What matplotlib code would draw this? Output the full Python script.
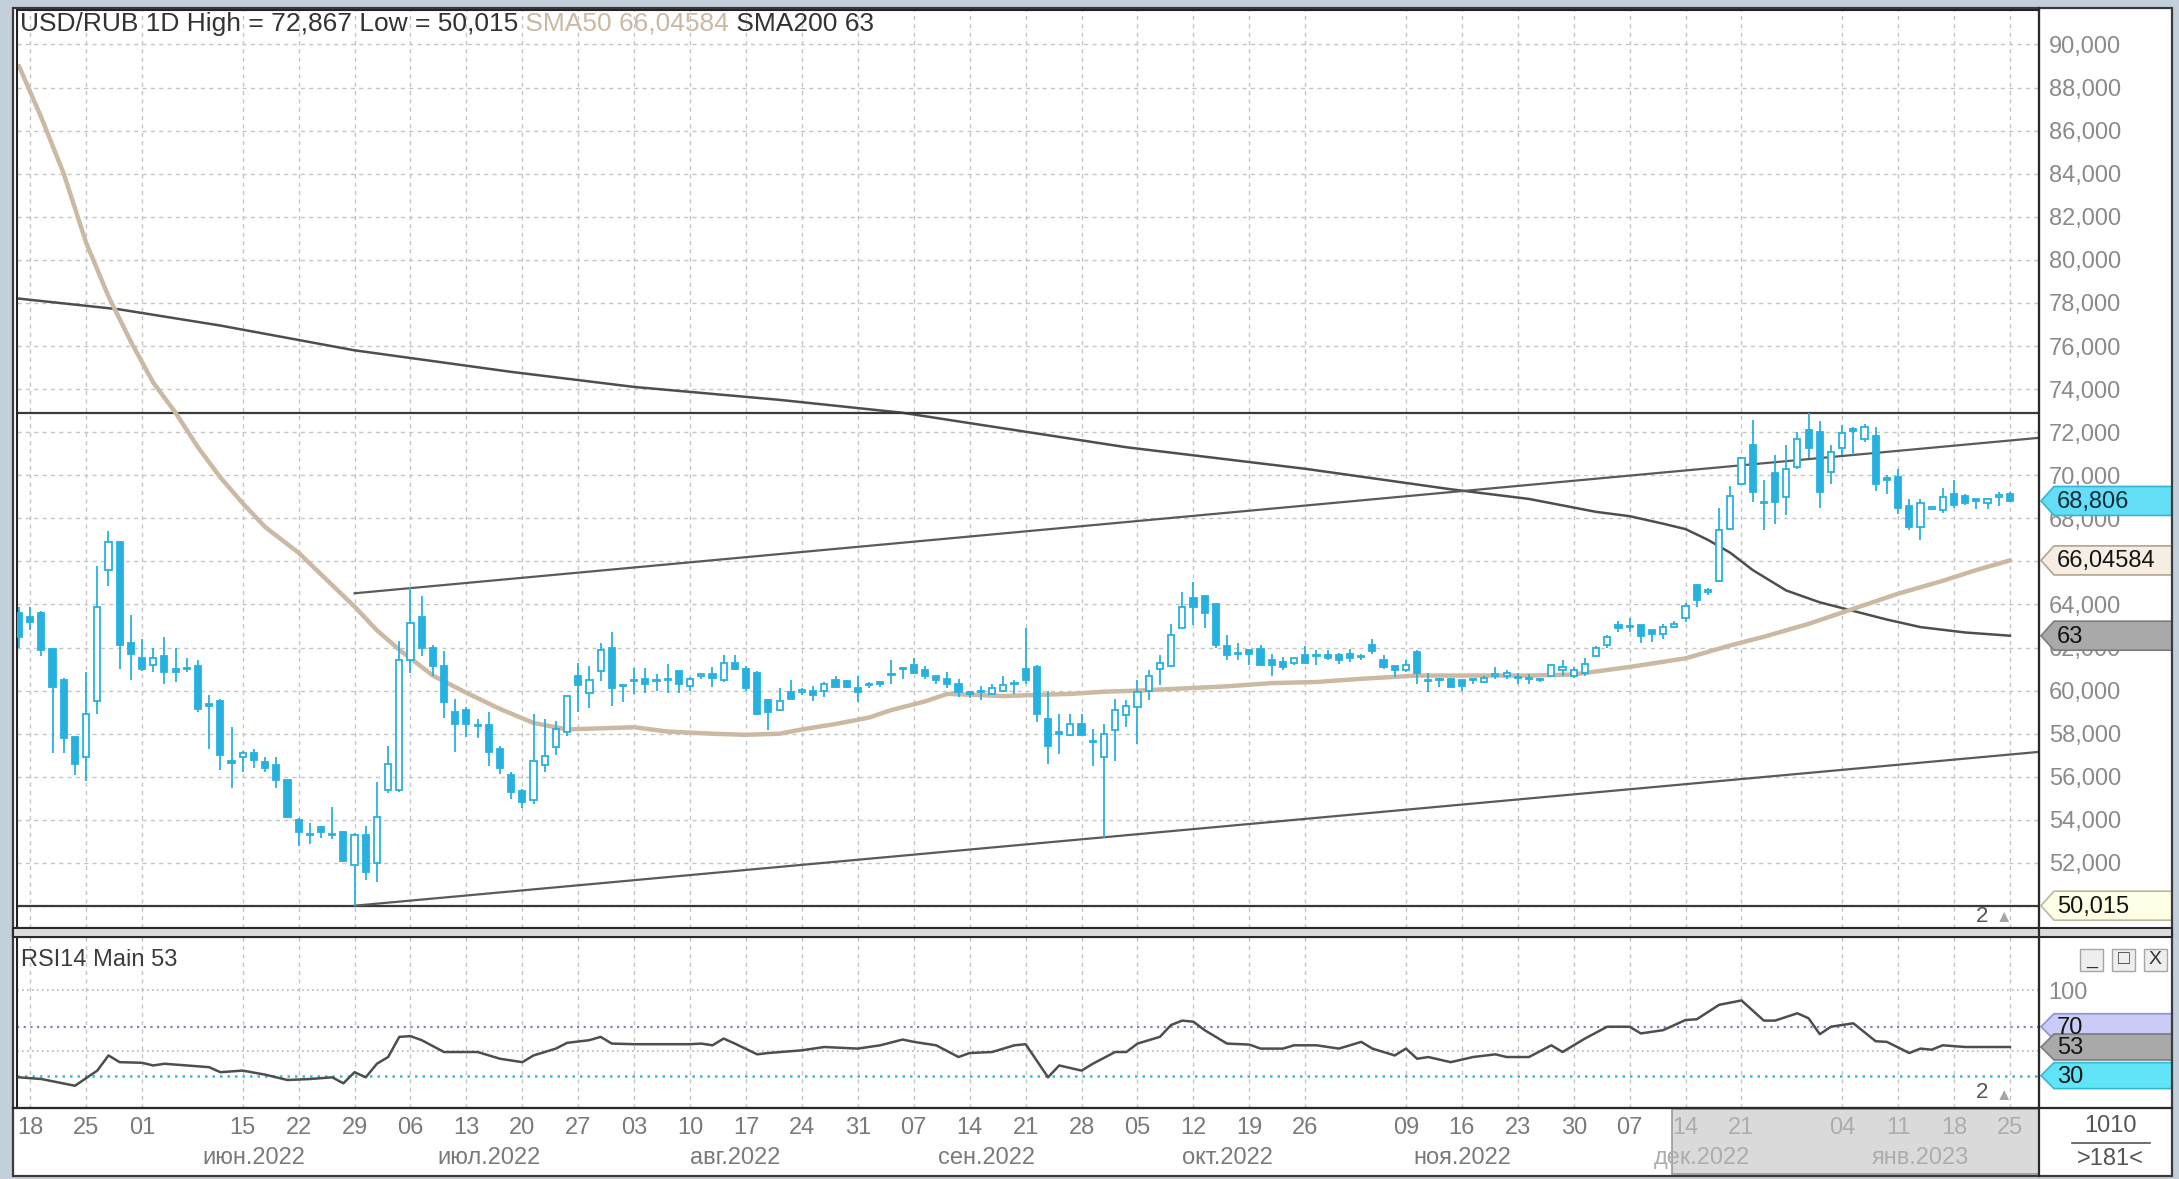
import numpy as np
import pandas as pd
import matplotlib
matplotlib.use("Agg")
import matplotlib.pyplot as plt
from matplotlib.patches import Polygon, Rectangle

plt.rcParams["font.family"] = ["Liberation Sans", "DejaVu Sans"]

# ---------------- data: USD/RUB, daily, 17.05.2022 - 25.01.2023 ----------------
holidays = ["2022-06-13", "2022-11-04", "2023-01-02"]
days = pd.bdate_range("2022-05-17", "2023-01-25")
days = days[~days.isin(pd.to_datetime(holidays))]

opens = [63.6, 63.4, 63.6, 61.95, 60.5, 57.85, 56.9, 59.5, 65.6, 66.9,
         62.2, 61.5, 61.2, 61.6, 61.0, 61.0, 61.15, 59.4, 59.5, 56.75,
         56.9, 57.1, 56.7, 56.55, 55.85, 54.0, 53.3, 53.65, 53.35, 53.45,
         51.9, 53.3, 52.0, 55.4, 55.4, 61.4, 63.4, 62.0, 61.15, 59.0,
         59.1, 58.4, 58.4, 57.3, 56.1, 55.35, 54.9, 56.55, 57.4, 58.1,
         60.7, 59.9, 60.9, 62.0, 60.25, 60.45, 60.55, 60.45, 60.5, 60.9,
         60.2, 60.7, 60.75, 60.5, 61.3, 61.0, 60.8, 59.55, 59.1, 59.95,
         59.95, 60.0, 60.0, 60.5, 60.45, 60.1, 60.25, 60.4, 60.75, 61.0,
         61.2, 60.95, 60.7, 60.55, 60.3, 59.95, 59.95, 59.85, 60.0, 60.3,
         61.0, 61.1, 58.7, 58.05, 57.95, 58.45, 57.6, 56.9, 58.15, 58.85,
         59.25, 60.0, 61.0, 61.15, 62.9, 64.3, 64.4, 64.0, 62.05, 61.7,
         61.9, 61.95, 61.4, 61.35, 61.3, 61.65, 61.6, 61.65, 61.65, 61.7,
         61.55, 62.1, 61.4, 61.15, 60.95, 61.8, 60.5, 60.5, 60.55, 60.5,
         60.5, 60.4, 60.7, 60.7, 60.6, 60.55, 60.5, 60.7, 60.95, 60.7,
         60.8, 61.6, 62.1, 63.05, 63.0, 63.05, 62.8, 62.65, 62.95, 63.35,
         64.9, 64.6, 65.1, 67.5, 69.6, 71.4, 68.75, 70.1, 69.0, 70.4,
         72.1, 72.0, 70.15, 71.25, 72.15, 71.7, 71.8, 69.85, 69.9, 68.55,
         67.6, 68.45, 68.4, 69.15, 69.05, 68.9, 68.7, 69.0, 69.15]
highs = [63.9, 63.9, 63.7, 62.0, 60.6, 57.9, 60.85, 65.8, 67.4, 66.95,
         63.5, 62.4, 62.0, 62.5, 62.0, 61.5, 61.4, 59.8, 59.6, 58.3,
         57.2, 57.3, 56.9, 56.9, 55.9, 54.1, 53.85, 53.7, 54.6, 53.5,
         53.4, 53.7, 55.75, 57.45, 62.3, 64.8, 64.4, 62.1, 61.85, 59.6,
         59.25, 58.7, 59.0, 57.45, 56.2, 55.45, 58.9, 58.7, 58.6, 59.75,
         61.3, 61.15, 62.2, 62.7, 60.3, 61.05, 61.05, 60.75, 61.25, 60.9,
         60.65, 60.8, 61.1, 61.65, 61.65, 61.15, 60.9, 59.6, 60.1, 60.5,
         60.1, 60.2, 60.4, 60.7, 60.5, 60.7, 60.4, 60.45, 61.4, 61.1,
         61.5, 61.15, 60.7, 60.85, 60.55, 60.0, 60.2, 60.3, 60.7, 60.5,
         62.9, 61.2, 60.0, 58.9, 58.9, 58.9, 58.2, 58.45, 59.6, 59.55,
         60.5, 60.95, 61.65, 63.1, 64.6, 65.05, 64.4, 64.0, 62.6, 62.2,
         61.9, 62.1, 61.7, 61.55, 61.5, 62.05, 61.9, 61.9, 61.75, 61.95,
         61.7, 62.4, 61.65, 61.15, 61.4, 61.9, 60.8, 60.6, 60.6, 60.5,
         60.55, 60.7, 61.1, 60.95, 60.8, 60.75, 60.6, 61.25, 61.4, 61.1,
         61.5, 62.05, 62.6, 63.25, 63.35, 63.05, 62.8, 63.1, 63.25, 64.05,
         64.95, 64.75, 68.5, 69.5, 70.85, 72.55, 69.8, 70.95, 71.4, 72.0,
         72.867, 72.5, 71.4, 72.35, 72.25, 72.4, 72.25, 70.0, 70.3, 68.9,
         68.9, 68.55, 69.4, 69.8, 69.15, 68.9, 68.9, 69.2, 69.2]
lows = [62.0, 62.8, 61.6, 57.1, 57.1, 56.1, 55.8, 58.9, 64.85, 61.0,
        60.5, 60.9, 60.85, 60.3, 60.4, 60.85, 59.0, 57.3, 56.3, 55.5,
        56.2, 56.4, 56.2, 55.5, 54.1, 52.8, 52.9, 53.15, 53.1, 52.05,
        50.015, 51.2, 51.1, 55.25, 55.3, 60.8, 61.6, 60.7, 58.75, 57.15,
        57.85, 57.8, 56.5, 56.15, 54.95, 54.55, 54.75, 56.2, 57.0, 57.9,
        59.0, 59.2, 60.45, 59.3, 59.45, 59.85, 59.9, 60.0, 59.9, 59.9,
        60.0, 60.55, 60.15, 60.4, 60.95, 60.0, 58.85, 58.15, 59.1, 59.6,
        59.8, 59.5, 59.7, 60.1, 60.1, 59.45, 60.1, 60.15, 60.3, 60.55,
        60.8, 60.55, 60.3, 60.1, 59.7, 59.65, 59.55, 59.8, 59.95, 59.85,
        60.3, 58.55, 56.6, 57.05, 57.9, 57.9, 56.5, 53.15, 56.75, 58.3,
        57.5, 59.55, 60.25, 61.15, 62.9, 63.05, 62.9, 62.0, 61.4, 61.4,
        61.2, 61.15, 60.7, 60.95, 61.2, 61.25, 61.2, 61.4, 61.25, 61.35,
        61.4, 61.7, 61.0, 60.65, 60.85, 60.3, 59.95, 60.15, 60.1, 60.0,
        60.3, 60.35, 60.55, 60.55, 60.3, 60.3, 60.4, 60.7, 60.7, 60.6,
        60.7, 61.55, 62.0, 62.7, 62.7, 62.2, 62.25, 62.4, 62.9, 63.2,
        63.9, 64.45, 65.05, 67.45, 69.55, 68.75, 67.45, 67.75, 68.15, 70.3,
        70.8, 68.5, 69.6, 70.95, 70.95, 71.55, 69.25, 69.15, 68.2, 67.45,
        67.0, 68.4, 68.25, 68.5, 68.6, 68.45, 68.45, 68.55, 68.75]
closes = [62.5, 63.2, 61.9, 60.15, 57.8, 56.6, 58.9, 63.9, 66.9, 62.1,
          61.7, 61.0, 61.5, 60.85, 60.85, 61.02, 59.15, 59.3, 57.0, 56.65,
          57.1, 56.8, 56.4, 55.85, 54.15, 53.45, 53.35, 53.45, 53.3, 52.1,
          53.3, 51.6, 54.15, 56.6, 61.4, 63.15, 62.0, 61.15, 59.45, 58.45,
          58.45, 58.35, 57.15, 56.4, 55.3, 54.85, 56.75, 56.95, 58.2, 59.75,
          60.25, 60.5, 61.9, 60.1, 60.2, 60.5, 60.3, 60.5, 60.55, 60.3,
          60.55, 60.72, 60.6, 61.3, 61.0, 60.1, 58.9, 59.0, 59.5, 59.6,
          59.97, 59.8, 60.3, 60.15, 60.15, 59.95, 60.27, 60.3, 60.72, 61.05,
          60.8, 60.7, 60.5, 60.3, 59.95, 59.85, 59.93, 60.1, 60.25, 60.35,
          60.5, 58.9, 57.45, 58.0, 58.45, 57.95, 57.6, 58.0, 59.1, 59.3,
          59.95, 60.7, 61.3, 62.6, 63.9, 63.9, 63.6, 62.1, 61.65, 61.72,
          61.7, 61.2, 61.2, 61.1, 61.5, 61.3, 61.62, 61.5, 61.4, 61.5,
          61.57, 61.85, 61.1, 60.95, 61.2, 60.8, 60.45, 60.52, 60.15, 60.2,
          60.48, 60.6, 60.72, 60.8, 60.58, 60.53, 60.52, 61.2, 61.1, 60.95,
          61.25, 62.0, 62.5, 62.9, 62.95, 62.55, 62.65, 62.95, 63.1, 63.95,
          64.2, 64.62, 67.45, 69.05, 70.8, 69.2, 68.7, 68.75, 70.3, 71.7,
          71.25, 69.2, 71.1, 71.95, 72.05, 72.25, 69.6, 69.8, 68.5, 67.6,
          68.7, 68.47, 69.0, 68.6, 68.7, 68.8, 68.9, 69.0, 68.806]

# indicator lines: bar number (from 17.05.2022) and value
sma50_bar = [0, 2, 4, 6, 8, 10, 12, 14, 16, 18, 20, 22, 25, 28, 30, 32, 34, 37, 40,
             43, 46, 49, 52, 55, 58, 62, 65, 68, 70, 73, 76, 78, 81, 83, 88, 91, 94,
             97, 100, 104, 108, 112, 116, 120, 125, 130, 135, 139, 144, 149, 153,
             156, 160, 164, 168, 172, 175, 178]
sma50_val = [89.0, 86.6, 84.0, 80.8, 78.3, 76.2, 74.3, 72.9, 71.3, 69.9, 68.7, 67.6,
             66.4, 64.9, 63.9, 62.8, 61.9, 60.7, 59.9, 59.15, 58.5, 58.2, 58.25,
             58.3, 58.1, 58.0, 57.95, 58.0, 58.2, 58.45, 58.75, 59.1, 59.5, 59.85,
             59.75, 59.8, 59.85, 59.95, 60.0, 60.1, 60.2, 60.35, 60.4, 60.55, 60.7,
             60.7, 60.7, 60.75, 61.1, 61.5, 62.1, 62.5, 63.1, 63.8, 64.5, 65.1,
             65.6, 66.04584]
sma200_bar = [0, 9, 18, 30, 44, 55, 68, 79, 99, 115, 128, 135, 138, 141, 144, 147,
              149, 151, 153, 155, 158, 161, 164, 167, 170, 174, 178]
sma200_val = [78.2, 77.7, 76.95, 75.8, 74.8, 74.1, 73.5, 72.9, 71.3, 70.3, 69.35,
              68.9, 68.6, 68.3, 68.1, 67.75, 67.5, 67.0, 66.4, 65.6, 64.65, 64.1,
              63.7, 63.3, 62.95, 62.7, 62.55]
rsi_bar = [0, 2, 5, 7, 8, 9, 11, 12, 13, 15, 17, 18, 20, 22, 24, 26, 28, 29, 30,
           31, 32, 33, 34, 35, 36, 38, 41, 43, 45, 46, 48, 49, 51, 52, 53, 55, 60,
           61, 62, 63, 64, 66, 67, 70, 72, 75, 77, 79, 80, 82, 84, 85, 87, 89, 90,
           92, 93, 95, 96, 98, 99, 100, 102, 103, 104, 105, 106, 108, 110, 111,
           113, 114, 116, 118, 119, 120, 121, 123, 124, 125, 126, 128, 130, 132,
           133, 135, 137, 138, 140, 142, 144, 145, 147, 149, 150, 152, 154, 156,
           157, 159, 160, 161, 162, 164, 166, 167, 169, 170, 171, 172, 174, 178]
rsi_val = [28.6, 27.2, 21.7, 34.1, 46.5, 41.0, 40.5, 38.3, 39.7, 38.3, 36.9, 32.8,
           34.1, 30.8, 26.4, 27.2, 28.6, 23.7, 32.8, 28.6, 39.7, 45.2, 61.7, 62.3,
           59.0, 49.3, 49.3, 43.8, 41.0, 46.5, 52.1, 56.8, 59.0, 61.7, 56.2, 55.7,
           55.7, 56.2, 54.8, 60.3, 56.2, 47.4, 48.5, 50.7, 53.4, 52.1, 54.8, 59.5,
           57.6, 54.8, 45.2, 48.5, 49.3, 54.8, 55.7, 28.6, 38.3, 34.1, 39.7, 49.3,
           49.3, 56.2, 61.7, 71.4, 75.0, 74.1, 67.2, 56.2, 55.4, 52.1, 52.1, 54.8,
           54.8, 52.1, 54.8, 57.6, 52.1, 46.5, 52.1, 43.8, 45.2, 41.0, 45.2, 47.4,
           45.2, 45.2, 54.8, 49.3, 60.3, 70.0, 70.0, 64.5, 67.2, 75.5, 76.1, 87.9,
           91.5, 75.0, 75.0, 81.0, 76.9, 63.9, 70.0, 72.8, 58.1, 57.6, 48.5, 52.1,
           51.2, 54.8, 53.4, 53.4]

high_level = 72.867
low_level = 50.015
# hand-drawn channel: two anchor bars and the prices of its borders there
chan_bar = [30, 160]
chan_top = [64.52, 70.75]
chan_bottom = [50.015, 56.18]

last_close = 68.806
sma50_last = 66.04584
sma200_last = 63
rsi_last = 53

months_ru = ["янв", "фев", "мар", "апр", "май", "июн", "июл", "авг", "сен", "окт", "ноя", "дек"]
skip_ticks = ["2022-06-08", "2022-11-02", "2022-12-28"]

# ---------------- layout ----------------
W, H = 2179, 1179
BLUE = "#27B1DF"
TAN = "#CBB9A3"
GRID = "#C6C6C6"


def rect(x0, top, x1, bottom):
    return [x0 / W, 1 - bottom / H, (x1 - x0) / W, (bottom - top) / H]


def num(v, d):
    return f"{v:.{d}f}".replace(".", ",")


fig = plt.figure(figsize=(W / 100, H / 100), dpi=100, facecolor="#C3CFDB")

under = fig.add_axes([0, 0, 1, 1], zorder=-5)
under.set_xlim(0, W)
under.set_ylim(H, 0)
under.axis("off")
under.add_patch(Rectangle((13, 8), 2159, 1168, fc="white", ec="none"))

ax = fig.add_axes(rect(17, 10, 2039, 928))
rsi = fig.add_axes(rect(17, 937, 2039, 1108))
dax = fig.add_axes(rect(17, 1108, 2039, 1175))

n = len(opens)
x = np.arange(n)
o = np.array(opens)
h = np.array(highs)
l = np.array(lows)
c = np.array(closes)
up = c >= o
xl = (-0.18, 180.6)

tick_days = pd.date_range("2022-05-18", "2023-01-25", freq="W-WED")
tick_days = tick_days[~tick_days.isin(pd.to_datetime(skip_ticks))]
tick_pos = [days.get_loc(d) for d in tick_days]

# values carrying a tag on the right scale; tick labels under them are hidden
main_tags = [sma50_last, sma200_val[-1], last_close, low_level]
rsi_tags = [70, 30, rsi_val[-1]]

# ---------------- main price panel ----------------
ax.set_facecolor("white")
ax.vlines(x, l, h, color=BLUE, lw=1.3, zorder=3)
body_lo = np.minimum(o, c)
body_h = np.maximum(np.abs(c - o), 0.06)
ax.bar(x[up], body_h[up], bottom=body_lo[up], width=0.55, facecolor="white",
       edgecolor=BLUE, lw=1.3, zorder=4)
ax.bar(x[~up], body_h[~up], bottom=body_lo[~up], width=0.55, facecolor=BLUE,
       edgecolor=BLUE, lw=1.3, zorder=4)

ax.plot(sma200_bar, sma200_val, color="#4E4E4E", lw=1.8, zorder=2)
ax.plot(sma50_bar, sma50_val, color=TAN, lw=3.2, zorder=2.5, solid_capstyle="round")
ax.axhline(high_level, color="#3A3A3A", lw=1.6, zorder=2)
ax.axhline(low_level, color="#3A3A3A", lw=1.6, zorder=2)

for prices in (chan_top, chan_bottom):
    slope = (prices[1] - prices[0]) / (chan_bar[1] - chan_bar[0])
    ax.plot([chan_bar[0], xl[1]], [prices[0], prices[0] + slope * (xl[1] - chan_bar[0])],
            color="#5A5A5A", lw=1.6, zorder=2)

ax.set_xlim(*xl)
ax.set_ylim(48.98, 91.6)
ax.set_xticks(tick_pos)
price_ticks = np.arange(50, 91, 2)
ax.set_yticks(price_ticks)
ax.set_yticklabels(["" if min(abs(v - t) for t in main_tags) < 0.5 else num(v, 3)
                    for v in price_ticks])
ax.yaxis.tick_right()
ax.tick_params(axis="x", length=0, labelbottom=False)
ax.tick_params(axis="y", length=0, pad=7, labelsize=17, labelcolor="#8A8A8A")
ax.grid(True, color=GRID, ls=(0, (3, 3)), lw=1)
ax.set_axisbelow(True)
for s in ax.spines.values():
    s.set_color("#222222")
    s.set_linewidth(1.5)

# ---------------- RSI panel ----------------
rsi.set_facecolor("white")
rsi.plot(rsi_bar, rsi_val, color="#4E4E4E", lw=1.8, zorder=3)
rsi.axhline(70, color="#7E80C8", ls=(0, (1, 2)), lw=1.6, zorder=2)
rsi.axhline(30, color="#33BCD2", ls=(0, (1, 2)), lw=1.8, zorder=2)
rsi.set_xlim(*xl)
rsi.set_ylim(3.5, 143.4)
rsi.set_xticks(tick_pos)
rsi_ticks = [50, 100]
rsi.set_yticks(rsi_ticks)
rsi.set_yticklabels(["" if min(abs(v - t) for t in rsi_tags) < 8 else str(v)
                     for v in rsi_ticks])
rsi.yaxis.tick_right()
rsi.tick_params(axis="x", length=0, labelbottom=False)
rsi.tick_params(axis="y", length=0, pad=7, labelsize=17, labelcolor="#8A8A8A")
rsi.grid(True, axis="x", color=GRID, ls=(0, (3, 3)), lw=1)
rsi.grid(True, axis="y", color="#B5B5B5", ls=(0, (1, 2)), lw=1.2)
rsi.set_axisbelow(True)
for s in rsi.spines.values():
    s.set_color("#222222")
    s.set_linewidth(1.5)
rsi.text(0.002, 0.93, f"RSI14 Main {rsi_last}", transform=rsi.transAxes, fontsize=17,
         color="#3C3C3C", va="top", ha="left")

# ---------------- date axis ----------------
dax.set_xlim(*xl)
dax.set_ylim(0, 1)
dax.axis("off")
shade_from = days.get_loc(pd.Timestamp("2022-12-14")) - 1.2
dax.add_patch(Rectangle((shade_from, 0.02), xl[1] - shade_from, 0.96, fc="#DADADA",
                        ec="#9A9A9A", lw=1.2, zorder=1))
for p, d in zip(tick_pos, tick_days):
    col = "#ADADAD" if p > shade_from else "#7A7A7A"
    dax.text(p, 0.70, d.strftime("%d"), ha="center", va="center", fontsize=17,
             color=col, zorder=2)
month_key = days.to_period("M")
for m in month_key.unique()[1:]:
    pos = np.mean(np.where(month_key == m)[0])
    col = "#ADADAD" if pos > shade_from else "#7A7A7A"
    dax.text(pos, 0.25, f"{months_ru[m.month - 1]}.{m.year}", ha="center",
             va="center", fontsize=17, color=col, zorder=2)

# ---------------- overlay: header, value tags, frames ----------------
over = fig.add_axes([0, 0, 1, 1], zorder=10)
over.set_xlim(0, W)
over.set_ylim(H, 0)
over.axis("off")
over.patch.set_visible(False)

t1 = over.text(20, 24, f"USD/RUB 1D High = {num(high_level, 3)} Low = {num(low_level, 3)}",
               fontsize=19, color="#333333", va="center", ha="left")
t2 = over.annotate(f" SMA50 {num(sma50_last, 5)}", xy=(1, 0), xycoords=t1,
                   va="bottom", ha="left", fontsize=19, color=TAN)
over.annotate(f" SMA200 {sma200_last}", xy=(1, 0), xycoords=t2,
              va="bottom", ha="left", fontsize=19, color="#333333")


def tag(axis, value, label, face, edge, hgt=29, color="#141414"):
    y = over.transData.inverted().transform(axis.transData.transform((0, value)))[1]
    pts = [(2041, y), (2054, y - hgt / 2), (2172, y - hgt / 2), (2172, y + hgt / 2),
           (2054, y + hgt / 2)]
    over.add_patch(Polygon(pts, closed=True, fc=face, ec=edge, lw=1.2))
    over.text(2057, y + 1, label, va="center", ha="left", fontsize=17, color=color)


tag(ax, sma50_last, num(sma50_last, 5), "#F6EEE3", "#B3A38D")
tag(ax, sma200_val[-1], str(sma200_last), "#A9A9A9", "#7C7C7C")
tag(ax, last_close, num(last_close, 3), "#63DEF6", "#35B4D6", color="#0D2A38")
tag(ax, low_level, num(low_level, 3), "#FFFFE6", "#B9B9A0")
tag(rsi, 70, "70", "#C9CCF5", "#8F92D3", hgt=26)
tag(rsi, 30, "30", "#62E4F8", "#34B7D2", hgt=26)
tag(rsi, rsi_val[-1], str(rsi_last), "#A9A9A9", "#7C7C7C", hgt=26)

# "2 ▲" markers in the lower right corner of both panels
for yy in (916, 1093):
    over.text(1982, yy, "2", fontsize=16, color="#555555", ha="center", va="center")
    over.text(2004, yy + 2, "▲", fontsize=12, color="#A5A5A5", ha="center", va="center")

# window buttons of the RSI panel
for x0, sym in ((2080, "_"), (2112, "□"), (2144, "X")):
    over.add_patch(Rectangle((x0, 949), 23, 22, fc="#EEEEEE", ec="#A5A5A5", lw=1))
    over.text(x0 + 11.5, 960, sym, fontsize=14, color="#333333", ha="center", va="center")

over.text(2110, 1126, "1010", fontsize=17, color="#555555", ha="center", va="center")
over.plot([2072, 2150], [1143, 1143], color="#555555", lw=1.2)
over.text(2110, 1159, ">181<", fontsize=17, color="#555555", ha="center", va="center")

# frames
over.add_patch(Rectangle((13, 8), 2159, 1168, fc="none", ec="#3A3A3A", lw=1.6))
over.add_patch(Rectangle((13, 928), 2159, 9, fc="#DCDCDC", ec="#2A2A2A", lw=1.5))
over.plot([13, 2172], [1108, 1108], color="#2A2A2A", lw=1.6)
over.plot([2039, 2039], [8, 1176], color="#2A2A2A", lw=1.6)

fig.savefig("out.png", dpi=100, facecolor=fig.get_facecolor())
